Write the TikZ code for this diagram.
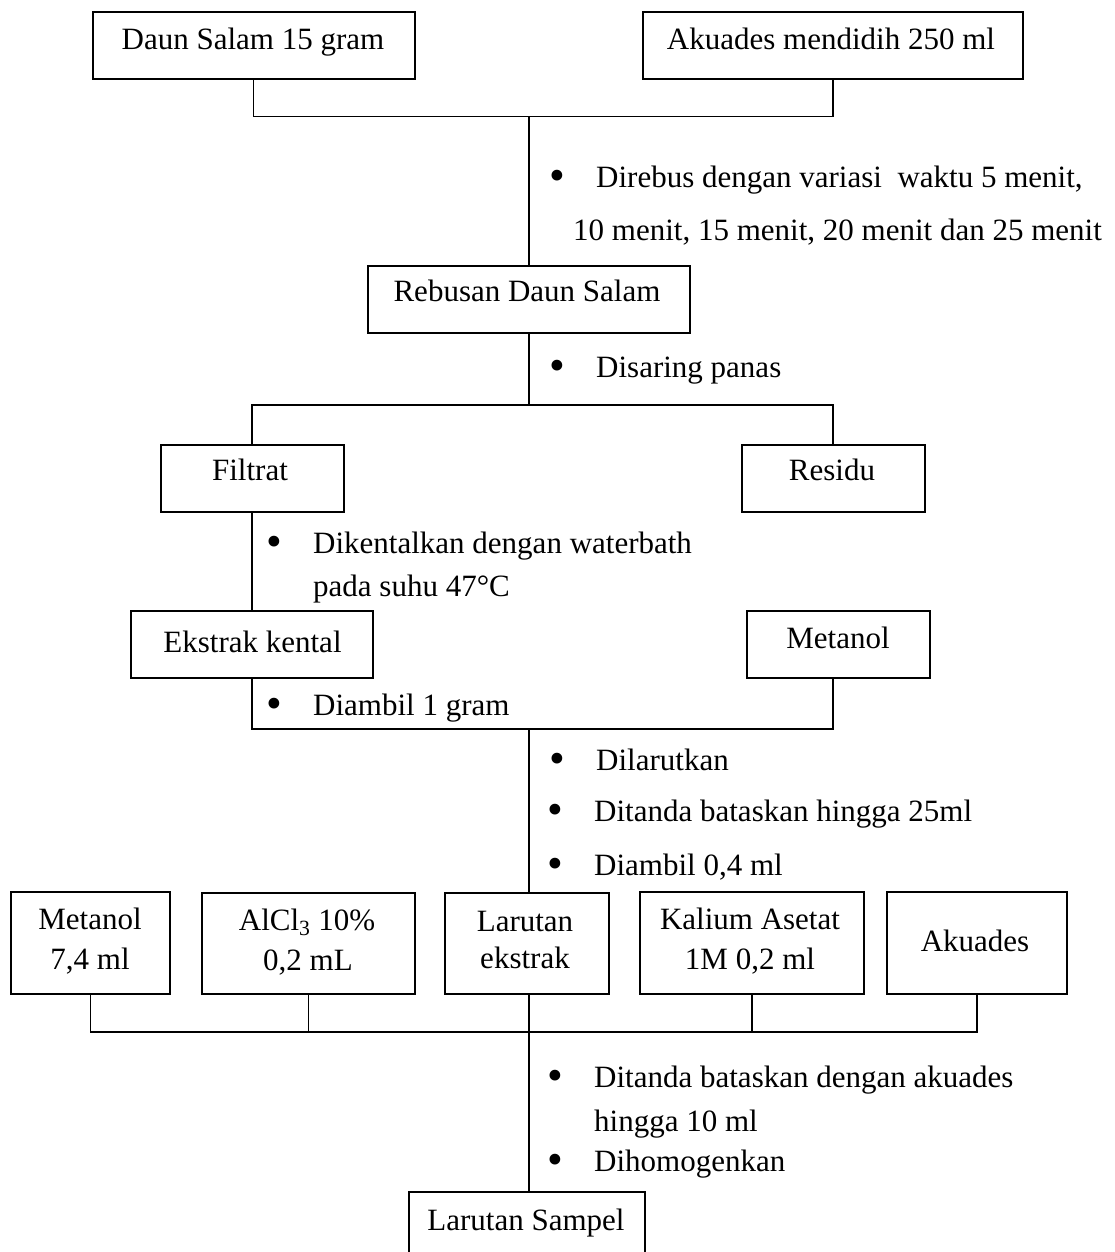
\documentclass[tikz,border=0pt]{standalone}
\usepackage{fontspec}
\setmainfont{Liberation Serif}
\newcommand\myfs{\fontsize{31pt}{36pt}\selectfont}
\newcommand\bul{\makebox[46pt][l]{\hspace{-1pt}\raisebox{-3pt}{\scalebox{1.45}{\textbullet}}}}
\begin{document}
\begin{tikzpicture}[x=1pt,y=-1pt,
  box/.style={draw, line width=2pt, inner sep=0pt, minimum height=67pt},
  lbl/.style={anchor=base, inner sep=0pt, font=\myfs},
  item/.style={anchor=base west, inner sep=0pt, font=\myfs},
  conn/.style={line width=1.6pt}]
\path[use as bounding box] (0,0) rectangle (1114,1252);
\clip (0,0) rectangle (1114,1252);
% top
\node[box, minimum width=322pt] (daun) at (253.5,46) {};
\node[lbl] (daunT) at (253,49.5) {Daun Salam 15 gram};
\node[box, minimum width=380pt] (aku) at (833,46) {};
\node[lbl] (akuT) at (831,49.5) {Akuades mendidih 250 ml};
\coordinate (j1) at (529,116.5);
\draw[conn] (daun.south) |- (j1) -| (aku.south);
\node[box, minimum width=322pt] (reb) at (529,299) {};
\node[lbl] (rebT) at (527,301.5) {Rebusan Daun Salam};
\draw[conn] (j1) -- (reb.north);
\node[item] (d1) at (550,187.5) {\bul Direbus dengan variasi\ \ waktu 5 menit,};
\node[item] (d2) at (573,240) {10 menit, 15 menit, 20 menit dan 25 menit};
% filter
\coordinate (j2) at (529,405);
\draw[conn] (reb.south) -- (j2);
\node[item] (s1) at (550,377) {\bul Disaring panas};
\node[box, minimum width=183pt] (fil) at (252,478) {};
\node[lbl] (filT) at (250,480) {Filtrat};
\node[box, minimum width=183pt] (res) at (833,478) {};
\node[lbl] (resT) at (832,480) {Residu};
\draw[conn] (fil.north) |- (j2) -| (res.north);
% extract
\node[box, minimum width=242pt] (eks) at (252,644.5) {};
\node[lbl] (eksT) at (252.5,652) {Ekstrak kental};
\draw[conn] (fil.south) -- (eks.north);
\node[item] (k1) at (267,553) {\bul Dikentalkan dengan waterbath};
\node[item] (k2) at (313,596) {pada suhu 47°C};
\node[box, minimum width=183pt] (met) at (838.5,644.5) {};
\node[lbl] (metT) at (838,648) {Metanol};
\coordinate (j3) at (529,729);
\draw[conn] (eks.south) |- (j3) -| (met.south -| res.south);
\node[item] (a1) at (267,715) {\bul Diambil 1 gram};
\node[item] (l1) at (550,770) {\bul Dilarutkan};
\node[item] (l2) at (548,821.5) {\bul Ditanda bataskan hingga 25ml};
\node[item] (l3) at (548,875.5) {\bul Diambil 0,4 ml};
% bottom row
\node[box, minimum width=159pt, minimum height=102pt] (m2) at (90.5,943) {};
\node[lbl] (m2a) at (90,929) {Metanol};
\node[lbl] (m2b) at (90,969) {7,4 ml};
\node[box, minimum width=213pt, minimum height=101pt] (al) at (308.5,943.5) {};
\node[lbl] (ala) at (307,930) {AlCl\textsubscript{3} 10\%};
\node[lbl] (alb) at (308,970) {0,2 mL};
\node[box, minimum width=164pt, minimum height=101pt] (lar) at (527,943.5) {};
\node[lbl] (lara) at (525,931) {Larutan};
\node[lbl] (larb) at (525,968) {ekstrak};
\node[box, minimum width=224pt, minimum height=102pt] (kal) at (752,943) {};
\node[lbl] (kala) at (750,929) {Kalium Asetat};
\node[lbl] (kalb) at (750,969) {1M 0,2 ml};
\node[box, minimum width=180pt, minimum height=102pt] (akd) at (977,943) {};
\node[lbl] (akdT) at (975,951) {Akuades};
\draw[conn] (j3) -- (lar.north -| j3);
\coordinate (j4) at (529,1032);
\draw[conn] (m2.south) |- (j4) -| (akd.south);
\draw[conn] (al.south) -- (al.south |- j4);
\draw[conn] (kal.south) -- (kal.south |- j4);
\draw[conn] (lar.south -| j4) -- (j4);
% final
\node[box, minimum width=236pt, minimum height=100pt] (samp) at (527,1242) {};
\node[lbl] (sampT) at (526,1230) {Larutan Sampel};
\draw[conn] (j4) -- (samp.north -| j4);
\node[item] (h1) at (548,1087) {\bul Ditanda bataskan dengan akuades};
\node[item] (h2) at (594,1131) {hingga 10 ml};
\node[item] (h3) at (548,1171) {\bul Dihomogenkan};
\end{tikzpicture}
\end{document}
